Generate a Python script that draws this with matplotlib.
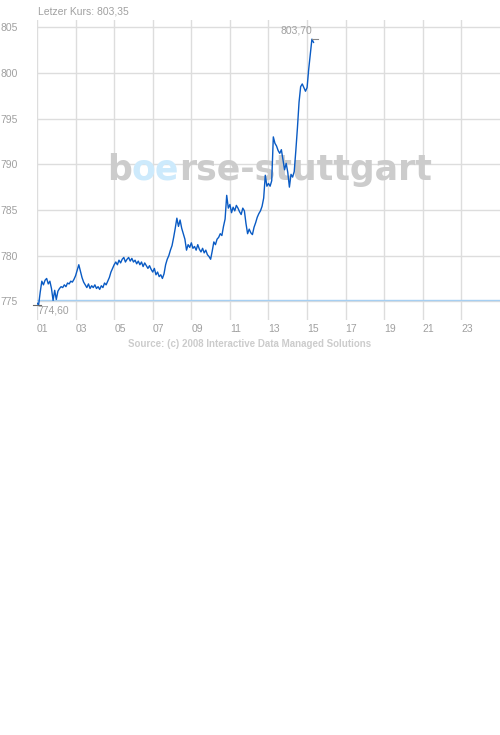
import numpy as np
import matplotlib
matplotlib.use('Agg')
import matplotlib.pyplot as plt

# intraday prices, one value every 5 minutes starting 01:00
start_hour = 1.0
step_minutes = 5
prices = [
    774.8, 774.6, 776.0, 777.2, 776.8, 777.3, 777.5, 776.9, 777.2, 776.4, 775.1, 776.2,
    775.2, 776.1, 776.4, 776.6, 776.5, 776.8, 776.6, 777.0, 776.9, 777.2, 777.1, 777.4,
    777.8, 778.4, 779.0, 778.3, 777.6, 777.1, 776.8, 776.5, 776.9, 776.4, 776.7, 776.5,
    776.8, 776.4, 776.6, 776.3, 776.7, 776.5, 777.0, 776.8, 777.2, 777.6, 778.2, 778.6,
    779.0, 779.3, 779.0, 779.5, 779.2, 779.6, 779.8, 779.3, 779.6, 779.8, 779.4, 779.7,
    779.3, 779.5, 779.1, 779.4, 779.0, 779.3, 778.8, 779.2, 778.9, 778.6, 778.9, 778.5,
    778.2, 778.6, 777.9, 778.2, 777.7, 777.9, 777.5, 778.0, 779.0, 779.6, 780.0, 780.6,
    781.1, 782.0, 783.0, 784.1, 783.2, 783.9, 783.0, 782.4, 781.8, 780.6, 781.2, 780.9,
    781.4, 780.8, 781.0, 780.6, 781.2, 780.7, 780.4, 780.8, 780.3, 780.6, 780.1, 779.9,
    779.6, 780.5, 781.5, 781.2, 781.8, 782.0, 782.4, 782.2, 783.2, 784.0, 786.6, 785.2,
    785.6, 784.7, 785.3, 784.9, 785.5, 785.2, 784.8, 784.5, 785.2, 784.9, 783.5, 782.4,
    782.9, 782.5, 782.3, 783.1, 783.6, 784.2, 784.6, 784.9, 785.4, 786.3, 788.8, 787.6,
    787.9, 787.6, 788.2, 793.0, 792.3, 792.0, 791.5, 791.2, 791.6, 790.5, 789.4, 790.1,
    789.1, 787.5, 788.9, 788.6, 789.2, 791.5, 794.0, 796.8, 798.5, 798.8, 798.4, 798.0,
    798.4, 800.4, 802.0, 803.7, 803.35,
]
prev_close = 775.18
y_ticks = [775, 780, 785, 790, 795, 800, 805]
x_ticks = [1, 3, 5, 7, 9, 11, 13, 15, 17, 19, 21, 23]
x_labels = ['01', '03', '05', '07', '09', '11', '13', '15', '17', '19', '21', '23']

hours = start_hour + np.arange(len(prices)) * step_minutes / 60.0
prices = np.array(prices)

W, H = 500, 735
fig = plt.figure(figsize=(W / 100, H / 100), dpi=100)
ax = fig.add_axes([37 / W, 1 - 320 / H, 463 / W, 300 / H])
ax.set_xlim(1, 25)
ax.set_ylim(772.95, 805.8)

grid_col = '#dddddd'
txt_col = '#a0a0a0'
font = 'Liberation Sans'

for s in ax.spines.values():
    s.set_visible(False)
ax.set_xticks(x_ticks)
ax.set_xticklabels(x_labels, ha='left', fontfamily=font, fontsize=7.5, color=txt_col)
ax.set_yticks(y_ticks)
ax.set_yticklabels([str(v) for v in y_ticks], fontfamily=font, fontsize=7.5, color=txt_col)
ax.tick_params(axis='both', length=0)
ax.tick_params(axis='y', pad=14)
ax.tick_params(axis='x', pad=3)
ax.grid(True, color=grid_col, lw=1)
ax.set_axisbelow(True)

# watermark: above the grid, below the price line
fig.canvas.draw()
r = fig.canvas.get_renderer()
parts = [('b', '#cccccc'), ('oe', '#cdeafc'), ('rse-stuttgart', '#cccccc')]
xpx = 107
for s, c in parts:
    t = ax.text(xpx / W, 1 - 180 / H, s, transform=fig.transFigure, clip_on=False,
                fontsize=25, fontweight='bold', family='DejaVu Sans', color=c,
                va='baseline', ha='left', zorder=1)
    xpx += t.get_window_extent(r).width

ax.axhline(prev_close, color='#a6cff2', lw=1, zorder=2)
ax.plot(hours, prices, color='#0a5bc4', lw=1, zorder=3)

# min / max markers
i_min = int(np.argmin(prices))
i_max = int(np.argmax(prices))
px_h = 24 / 463.0
ax.plot([hours[i_min] - 6 * px_h, hours[i_min] + 2 * px_h], [prices[i_min]] * 2,
        color='#666666', lw=0.8, clip_on=False, zorder=4)
ax.annotate(f'{prices[i_min]:.2f}'.replace('.', ','), (hours[i_min], prices[i_min]),
            xytext=(-1, -1), textcoords='offset pixels', ha='left', va='top',
            fontfamily=font, fontsize=7.5, color=txt_col)
ax.plot([hours[i_max], hours[i_max] + 6 * px_h], [prices[i_max]] * 2,
        color='#888888', lw=0.8, clip_on=False, zorder=4)
ax.annotate(f'{prices[i_max]:.2f}'.replace('.', ','), (hours[i_max], prices[i_max]),
            xytext=(0, 4), textcoords='offset pixels', ha='right', va='bottom',
            fontfamily=font, fontsize=7.5, color=txt_col)

fig.text(38 / W, 1 - 12 / H, 'Letzer Kurs: ' + f'{prices[-1]:.2f}'.replace('.', ','),
         fontfamily=font, fontsize=7.5, color=txt_col, ha='left', va='center')
fig.text(250 / W, 1 - 344 / H, 'Source: (c) 2008 Interactive Data Managed Solutions',
         fontfamily=font, fontsize=7, fontweight='bold', color='#cccccc',
         ha='center', va='center')

fig.savefig('out.png', dpi=100)
